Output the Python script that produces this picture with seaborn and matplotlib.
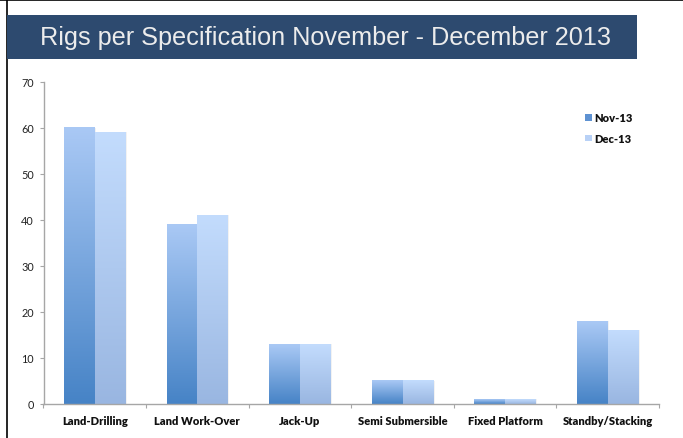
import numpy as np
import pandas as pd
import matplotlib
matplotlib.use("Agg")
import matplotlib.pyplot as plt
import seaborn as sns
from matplotlib.patches import Rectangle, Patch
from matplotlib.lines import Line2D
from matplotlib.colors import LinearSegmentedColormap

categories = ["Land-Drilling", "Land Work-Over", "Jack-Up", "Semi Submersible",
              "Fixed Platform", "Standby/Stacking"]
nov_13 = [60, 39, 13, 5, 1, 18]
dec_13 = [59, 41, 13, 5, 1, 16]
series_names = ["Nov-13", "Dec-13"]
y_ticks = [0, 10, 20, 30, 40, 50, 60, 70]
title = "Rigs per Specification November - December 2013"

df = pd.DataFrame({
    "category": categories * 2,
    "value": nov_13 + dec_13,
    "series": [series_names[0]] * len(categories) + [series_names[1]] * len(categories),
})

sns.set_style("white")
plt.rcParams["font.family"] = ["Lato", "DejaVu Sans"]

W, H = 683, 439
fig = plt.figure(figsize=(W / 100, H / 100), dpi=100)
ax = fig.add_axes([43.5 / W, (H - 405) / H, (659 - 43.5) / W, (405 - 82.5) / H])

grad = {
    "Nov-13": ("#4683c6", "#aac9f5"),
    "Dec-13": ("#99b6e1", "#c3dcfd"),
}

sns.barplot(data=df, x="category", y="value", hue="series", order=categories,
            hue_order=series_names, width=0.6, gap=0, dodge=True, legend=False,
            saturation=1, ax=ax, palette=["#6f9fd8", "#b3cdf1"])

for cont, name in zip(ax.containers, series_names):
    c0, c1 = grad[name]
    cmap = LinearSegmentedColormap.from_list(name, [c0, c1])
    g = np.linspace(0, 1, 256).reshape(-1, 1)
    for p in cont.patches:
        x, w, h = p.get_x(), p.get_width(), p.get_height()
        ax.add_patch(Rectangle((x + 0.012, 0), w, h, facecolor="#000000",
                               alpha=0.05, edgecolor="none", zorder=1.5))
        ax.imshow(g, cmap=cmap, origin="lower", extent=[x, x + w, 0, h],
                  aspect="auto", zorder=2, interpolation="bicubic")
        p.set_facecolor("none")
        p.set_edgecolor("none")

ax.set_xlim(-0.5, len(categories) - 0.5)
ax.set_ylim(0, 70)
ax.set_yticks(y_ticks)
ax.set_yticklabels([str(t) for t in y_ticks])
ax.set_xlabel("")
ax.set_ylabel("")

for s in ["top", "right"]:
    ax.spines[s].set_visible(False)
for s in ["left", "bottom"]:
    ax.spines[s].set_color("#a6a6a6")
    ax.spines[s].set_linewidth(1.0)

ax.tick_params(axis="y", which="both", length=3, width=0.8, color="#a6a6a6",
               labelsize=7.8, labelcolor="#222222", pad=4, direction="out", left=True)
ax.tick_params(axis="x", which="major", length=0, labelsize=8, pad=8)
for lbl in ax.get_xticklabels():
    lbl.set_fontweight("heavy")
    lbl.set_color("#111111")
ax.set_xticks(np.arange(-0.5, len(categories), 1.0), minor=True)
ax.tick_params(axis="x", which="minor", length=3, width=0.8, color="#a6a6a6",
               direction="out", bottom=True)

handles = [Patch(facecolor="#5e92d2", edgecolor="none"),
           Patch(facecolor="#b8d1f6", edgecolor="none")]
leg = ax.legend(handles, series_names, loc="upper left",
                bbox_to_anchor=((581 - 43.5) / (659 - 43.5), (405 - 109) / (405 - 82.5)),
                frameon=False, fontsize=8, handlelength=0.55, handleheight=0.5,
                handletextpad=0.25, labelspacing=0.85, borderaxespad=0)
for t in leg.get_texts():
    t.set_fontweight("heavy")
    t.set_color("#111111")

# title banner
fig.patches.append(Rectangle((7 / W, (H - 60) / H), (637 - 7) / W, 44 / H,
                             transform=fig.transFigure, facecolor="#2d4a6f",
                             edgecolor="none", zorder=0))
fig.text(325 / W, (H - 38.5) / H, title, ha="center", va="center", color="#ececec",
         fontsize=18.2, fontfamily=["Liberation Sans", "DejaVu Sans"], zorder=3)

# frame lines
fig.add_artist(Line2D([0, 1], [1 - 0.6 / H, 1 - 0.6 / H], transform=fig.transFigure,
                      color="black", linewidth=1.2))
fig.add_artist(Line2D([7 / W, 7 / W], [0, 1], transform=fig.transFigure,
                      color="black", linewidth=1.2, zorder=-1))

fig.savefig("out.png", dpi=100)
